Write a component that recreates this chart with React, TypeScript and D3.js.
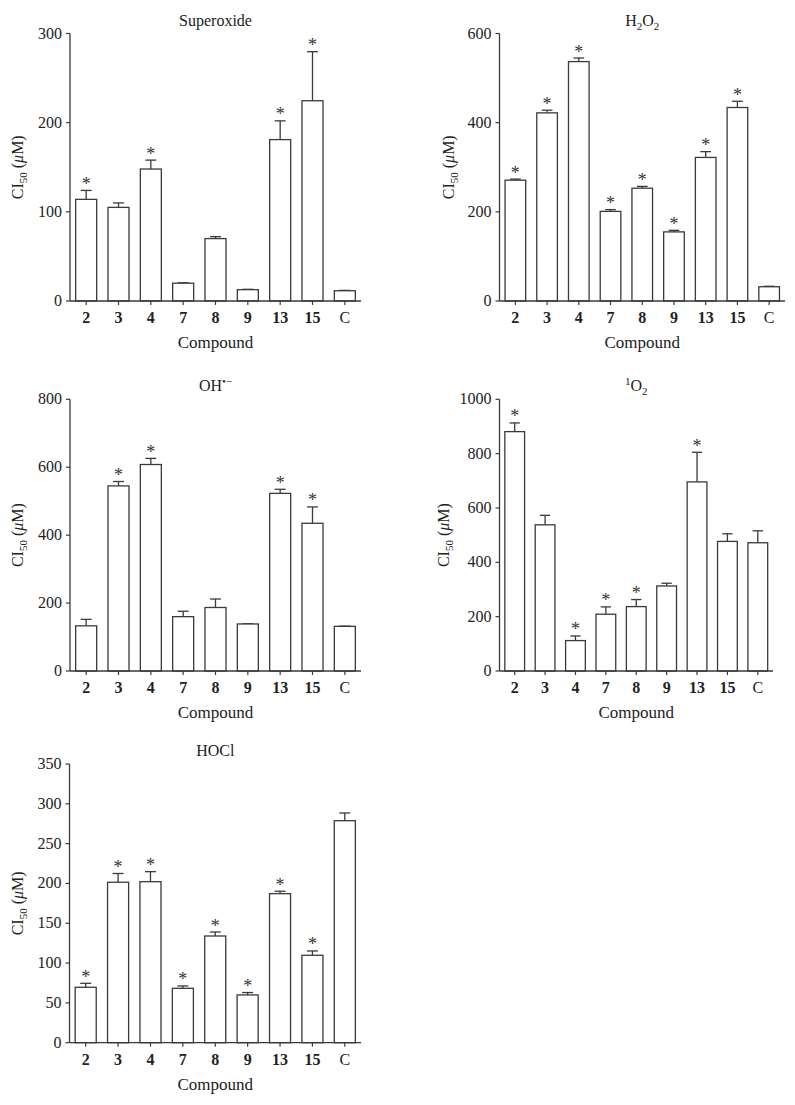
import React from "react";
import * as d3 from "d3";

const categories = ["2", "3", "4", "7", "8", "9", "13", "15", "C"];

const superoxideMean = [114, 105, 148, 20, 70, 12.7, 181, 224.6, 11.5];
const superoxideErr = [10, 5, 10, 0.4, 2.2, 0.4, 21, 55, 0.4];
const superoxideSig = [1, 0, 1, 0, 0, 0, 1, 1, 0];
const superoxideTicks = [0, 100, 200, 300];

const h2o2Mean = [271, 422, 537, 201, 253, 155, 322, 434, 32];
const h2o2Err = [2.5, 6, 8, 4, 4, 3.5, 13, 14, 1];
const h2o2Sig = [1, 1, 1, 1, 1, 1, 1, 1, 0];
const h2o2Ticks = [0, 200, 400, 600];

const ohMean = [133, 545, 608, 160, 187, 138.5, 523, 435, 131.5];
const ohErr = [19, 13, 18, 16, 25, 0.5, 12, 48, 0.5];
const ohSig = [0, 1, 1, 0, 0, 0, 1, 1, 0];
const ohTicks = [0, 200, 400, 600, 800];

const singletMean = [881, 538, 112, 209, 237, 313, 696, 477, 472];
const singletErr = [32, 35, 17, 27, 26, 10, 109, 28, 44];
const singletSig = [1, 0, 1, 1, 1, 0, 1, 0, 0];
const singletTicks = [0, 200, 400, 600, 800, 1000];

const hoclMean = [69.6, 201.5, 202.2, 68.3, 134, 60, 187.2, 109.8, 278.8];
const hoclErr = [5, 11, 12.6, 3, 5, 3, 3, 5.4, 9.7];
const hoclSig = [1, 1, 1, 1, 1, 1, 1, 1, 0];
const hoclTicks = [0, 50, 100, 150, 200, 250, 300, 350];

const FONT = "'Liberation Serif', 'Times New Roman', serif";
const STROKE = "#3a3a3a";
const TEXT = "#222";

type PanelProps = {
  title: React.ReactNode;
  mean: number[];
  err: number[];
  sig: number[];
  ticks: number[];
  x0: number;
  x1: number;
  yTop: number;
  yBottom: number;
  labelX: number;
};

function Panel({ title, mean, err, sig, ticks, x0, x1, yTop, yBottom, labelX }: PanelProps) {
  const x = d3
    .scaleBand<string>()
    .domain(categories)
    .range([x0, x1])
    .paddingInner(0.35)
    .paddingOuter(0.175);
  const y = d3
    .scaleLinear()
    .domain([0, ticks[ticks.length - 1]])
    .range([yBottom, yTop]);
  const bw = x.bandwidth();
  const cap = bw * 0.52;
  const midY = (yTop + yBottom) / 2;
  return (
    <g fontFamily={FONT} fill={TEXT}>
      <text x={(x0 + x1) / 2} y={yTop - 8} textAnchor="middle" fontSize={16}>
        {title}
      </text>
      {categories.map((c, i) => {
        const bx = x(c)!;
        const cx = bx + bw / 2;
        const top = y(mean[i]);
        const et = y(mean[i] + err[i]);
        return (
          <g key={c}>
            <line x1={cx} x2={cx} y1={top} y2={et} stroke={STROKE} strokeWidth={1.3} />
            <line x1={cx - cap / 2} x2={cx + cap / 2} y1={et} y2={et} stroke={STROKE} strokeWidth={1.3} />
            <rect
              x={bx}
              y={top}
              width={bw}
              height={yBottom - top}
              fill="#fff"
              stroke={STROKE}
              strokeWidth={1.3}
            />
            {sig[i] ? (
              <text x={cx} y={et - 0.5} textAnchor="middle" fontSize={18} fill="#333">
                *
              </text>
            ) : null}
          </g>
        );
      })}
      <line x1={x0} x2={x0} y1={yTop} y2={yBottom} stroke={STROKE} strokeWidth={1.3} />
      {ticks.map((t) => (
        <g key={t}>
          <line x1={x0 - 4} x2={x0} y1={y(t)} y2={y(t)} stroke={STROKE} strokeWidth={1.2} />
          <text x={x0 - 8} y={y(t) + 5} textAnchor="end" fontSize={16}>
            {t}
          </text>
        </g>
      ))}
      <line x1={x0} x2={x1} y1={yBottom} y2={yBottom} stroke={STROKE} strokeWidth={1.3} />
      {categories.map((c) => {
        const cx = x(c)! + bw / 2;
        return (
          <g key={c}>
            <line x1={cx} x2={cx} y1={yBottom} y2={yBottom + 4} stroke={STROKE} strokeWidth={1.2} />
            <text
              x={cx}
              y={yBottom + 22}
              textAnchor="middle"
              fontSize={16}
              fontWeight={c === "C" ? "normal" : "bold"}
            >
              {c}
            </text>
          </g>
        );
      })}
      <text x={(x0 + x1) / 2} y={yBottom + 47} textAnchor="middle" fontSize={17}>
        Compound
      </text>
      <text
        transform={`translate(${labelX},${midY}) rotate(-90)`}
        textAnchor="middle"
        fontSize={16}
      >
        CI
        <tspan fontSize={11} dy={4}>
          50
        </tspan>
        <tspan dy={-4}> (</tspan>
        <tspan fontStyle="italic">μ</tspan>
        <tspan>M)</tspan>
      </text>
    </g>
  );
}

export default function App() {
  return (
    <svg
      width={795}
      height={1105}
      style={{ position: "absolute", left: 0, top: 0, background: "#fff" }}
    >
      <rect width={795} height={1105} fill="#fff" />
      <Panel
        title={<tspan>Superoxide</tspan>}
        mean={superoxideMean}
        err={superoxideErr}
        sig={superoxideSig}
        ticks={superoxideTicks}
        x0={70}
        x1={361}
        yTop={33.5}
        yBottom={301}
        labelX={23}
      />
      <Panel
        title={
          <>
            <tspan>H</tspan>
            <tspan fontSize={11} dy={4}>2</tspan>
            <tspan dy={-4}>O</tspan>
            <tspan fontSize={11} dy={4}>2</tspan>
          </>
        }
        mean={h2o2Mean}
        err={h2o2Err}
        sig={h2o2Sig}
        ticks={h2o2Ticks}
        x0={499.5}
        x1={785}
        yTop={33.5}
        yBottom={301}
        labelX={454}
      />
      <Panel
        title={
          <>
            <tspan>OH</tspan>
            <tspan fontSize={11} dy={-6}>•−</tspan>
          </>
        }
        mean={ohMean}
        err={ohErr}
        sig={ohSig}
        ticks={ohTicks}
        x0={70}
        x1={361}
        yTop={399.3}
        yBottom={671}
        labelX={23}
      />
      <Panel
        title={
          <>
            <tspan fontSize={11} dy={-6}>1</tspan>
            <tspan dy={6}>O</tspan>
            <tspan fontSize={11} dy={4}>2</tspan>
          </>
        }
        mean={singletMean}
        err={singletErr}
        sig={singletSig}
        ticks={singletTicks}
        x0={499.5}
        x1={773}
        yTop={399.3}
        yBottom={671}
        labelX={449}
      />
      <Panel
        title={<tspan>HOCl</tspan>}
        mean={hoclMean}
        err={hoclErr}
        sig={hoclSig}
        ticks={hoclTicks}
        x0={69.5}
        x1={361}
        yTop={764}
        yBottom={1042.7}
        labelX={23}
      />
    </svg>
  );
}
